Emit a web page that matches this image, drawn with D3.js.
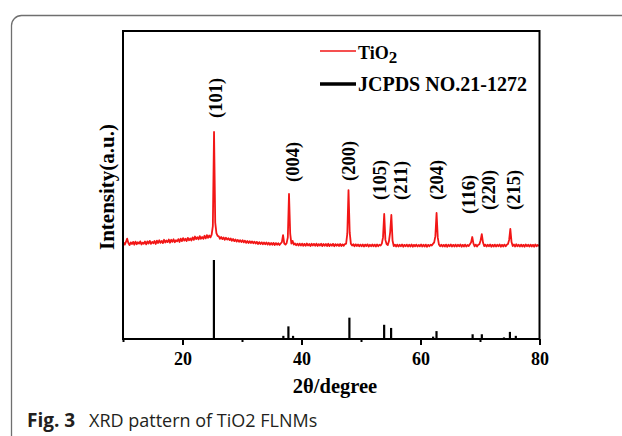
<!DOCTYPE html>
<html>
<head>
<meta charset="utf-8">
<script src="https://cdn.jsdelivr.net/npm/d3@7"></script>
<style>
  html, body { margin: 0; padding: 0; background: #fff; }
  svg { display: block; }
</style>
</head>
<body>
<svg id="chart" width="622" height="436"></svg>
<script>
// Measured scan of the TiO2 sample: 2θ from 10.1° to 79.9° in 0.2° steps (counts, a.u.)
const scanStart = 10.1;
const scanStep = 0.2;
const scanCounts = [
  109, 92, 113, 140, 105, 88, 110, 96, 114, 91,
  116, 95, 111, 100, 118, 93, 108, 99, 117, 94,
  118, 101, 122, 98, 114, 103, 121, 97, 124, 105,
  127, 106, 122, 104, 131, 109, 125, 112, 133, 107,
  131, 114, 135, 111, 127, 118, 136, 113, 140, 120,
  144, 124, 139, 121, 146, 127, 141, 125, 150, 130,
  157, 136, 152, 134, 160, 139, 154, 138, 163, 142,
  168, 147, 165, 150, 172, 240, 1000, 270, 185, 162,
  158, 139, 153, 136, 150, 131, 147, 132, 143, 128,
  141, 123, 137, 120, 133, 116, 130, 114, 128, 112,
  127, 110, 124, 106, 121, 105, 119, 104, 118, 103,
  116, 100, 114, 97, 112, 96, 110, 95, 109, 94,
  109, 92, 107, 90, 105, 91, 106, 89, 104, 90,
  103, 88, 101, 112, 168, 100, 92, 104, 150, 500,
  180, 100, 122, 92, 101, 86, 99, 85, 100, 84,
  100, 83, 98, 82, 101, 85, 97, 81, 99, 84,
  98, 82, 100, 81, 96, 84, 99, 80, 97, 83,
  97, 81, 99, 80, 95, 83, 98, 79, 96, 82,
  95, 80, 97, 81, 94, 82, 96, 100, 180, 532,
  190, 98, 84, 95, 79, 94, 80, 93, 78, 92,
  79, 93, 77, 92, 80, 94, 76, 91, 79, 93,
  78, 92, 77, 93, 79, 91, 84, 100, 150, 339,
  130, 96, 88, 120, 190, 331, 125, 80, 92, 77,
  92, 76, 91, 78, 93, 75, 90, 79, 92, 76,
  91, 77, 93, 75, 90, 78, 92, 76, 89, 78,
  93, 76, 91, 77, 92, 75, 90, 79, 91, 84,
  98, 110, 160, 347, 150, 92, 78, 91, 76, 90,
  77, 92, 75, 91, 78, 93, 76, 90, 77, 92,
  76, 91, 78, 93, 75, 90, 77, 92, 76, 89,
  80, 94, 110, 153, 100, 78, 92, 76, 90, 95,
  125, 177, 110, 80, 92, 76, 91, 78, 93, 75,
  90, 77, 92, 76, 91, 78, 93, 75, 90, 77,
  92, 78, 90, 96, 130, 218, 112, 80, 93, 76,
  95, 78, 91, 76, 92, 77, 90, 75, 93, 78,
  91, 76, 92, 77, 90, 75, 93, 78, 89, 80
];

// Anatase standard card JCPDS 21-1272: line positions (2θ) and relative intensities
const refAngles = [25.28, 36.95, 37.80, 38.58, 48.05, 53.89, 55.06, 62.12, 62.69, 68.76, 70.31, 74.03, 75.03, 76.02];
const refIntensity = [100, 4, 16, 4, 27, 18, 14, 3, 10, 6, 6, 2, 9, 4];

// Miller indices written above the peaks, with the 2θ / count level where each label starts
const peakLabels = ["(101)", "(004)", "(200)", "(105)", "(211)", "(204)", "(116)", "(220)", "(215)"];
const peakLabelAngles = [25.6, 38.6, 48.0, 53.2, 56.8, 62.8, 68.1, 71.5, 75.7];
const peakLabelLevels = [1113, 597, 605, 452, 452, 452, 339, 371, 371];

// Axis ticks
const xDomain = [10, 80];
const xMajorTicks = [20, 40, 60, 80];
const xMinorTicks = [10, 30, 50, 70];

const legendSample = "TiO";
const legendSampleSub = "2";
const legendCard = "JCPDS NO.21-1272";
const xTitle = "2θ/degree";
const yTitle = "Intensity(a.u.)";
const captionLead = "Fig. 3";
const captionText = "XRD pattern of TiO2 FLNMs";

const serif = "'Liberation Serif', 'Times New Roman', serif";
const sans = "'Open Sans', 'Noto Sans', sans-serif";

const svg = d3.select("#chart");
const plot = { left: 123, right: 539.5, top: 31, bottom: 339 };

const x = d3.scaleLinear().domain(xDomain).range([plot.left, plot.right]);
const yScan = d3.scaleLinear().domain([0, 1000]).range([256, 132]);
const yRef = d3.scaleLinear().domain([0, 100]).range([plot.bottom, 260]);

// outer rounded panel border (continues past the right and bottom edges)
svg.append("path")
  .attr("d", "M11.5,440 V25.5 A10,10 0 0 1 21.5,15.5 H640")
  .attr("fill", "none")
  .attr("stroke", "#6f6f6f")
  .attr("stroke-width", 1.3);

// reference sticks
svg.append("g")
  .selectAll("line")
  .data(refAngles.map((a, i) => ({ a, v: refIntensity[i] })))
  .join("line")
  .attr("x1", d => x(d.a)).attr("x2", d => x(d.a))
  .attr("y1", yRef(0)).attr("y2", d => yRef(d.v))
  .attr("stroke", "#000")
  .attr("stroke-width", 2.2);

// measured pattern
const scan = scanCounts.map((c, i) => ({ a: scanStart + i * scanStep, c }));
svg.append("path")
  .datum(scan)
  .attr("fill", "none")
  .attr("stroke", "#f21616")
  .attr("stroke-width", 1.8)
  .attr("stroke-linejoin", "round")
  .attr("d", d3.line().x(d => x(d.a)).y(d => yScan(d.c)));

// x axis: major ticks with labels, minor ticks without
const axisG = svg.append("g").attr("transform", `translate(0,${plot.bottom})`);
axisG.call(d3.axisBottom(x).tickValues(xMajorTicks).tickSize(6).tickSizeOuter(0).tickPadding(7).tickFormat(d3.format("d")));
axisG.append("g").call(d3.axisBottom(x).tickValues(xMinorTicks).tickSize(3).tickSizeOuter(0).tickFormat(""));
axisG.selectAll(".domain").remove();
axisG.selectAll(".tick line").attr("stroke", "#000").attr("stroke-width", 2);
axisG.selectAll(".tick text")
  .attr("fill", "#000")
  .style("font-family", serif)
  .style("font-weight", "bold")
  .style("font-size", "18px");

// plot frame
svg.append("rect")
  .attr("x", plot.left).attr("y", plot.top)
  .attr("width", plot.right - plot.left).attr("height", plot.bottom - plot.top)
  .attr("fill", "none")
  .attr("stroke", "#000")
  .attr("stroke-width", 2);

// peak (hkl) labels
svg.append("g")
  .selectAll("text")
  .data(peakLabels.map((t, i) => ({ t, a: peakLabelAngles[i], l: peakLabelLevels[i] })))
  .join("text")
  .attr("transform", d => `translate(${x(d.a)},${yScan(d.l)}) rotate(-90)`)
  .attr("text-anchor", "start")
  .attr("dominant-baseline", "central")
  .style("font-family", serif)
  .style("font-weight", "bold")
  .style("font-size", "18.5px")
  .text(d => d.t);

// legend
const legend = svg.append("g");
legend.append("line").attr("x1", 320).attr("x2", 356).attr("y1", 51).attr("y2", 51)
  .attr("stroke", "#f21616").attr("stroke-width", 1.7);
legend.append("line").attr("x1", 320).attr("x2", 356).attr("y1", 84).attr("y2", 84)
  .attr("stroke", "#000").attr("stroke-width", 3.4);
const t1 = legend.append("text").attr("x", 358).attr("y", 59)
  .style("font-family", serif).style("font-weight", "bold").style("font-size", "18px");
t1.append("tspan").text(legendSample);
t1.append("tspan").attr("dy", 4).style("font-size", "17px").text(legendSampleSub);
legend.append("text").attr("x", 358).attr("y", 91)
  .style("font-family", serif).style("font-weight", "bold").style("font-size", "20px")
  .text(legendCard);

// axis titles
svg.append("text")
  .attr("x", 335).attr("y", 393)
  .attr("text-anchor", "middle")
  .style("font-family", serif).style("font-weight", "bold").style("font-size", "20.5px")
  .text(xTitle);
svg.append("text")
  .attr("transform", "translate(107,187) rotate(-90)")
  .attr("text-anchor", "middle")
  .attr("dominant-baseline", "central")
  .style("font-family", serif).style("font-weight", "bold").style("font-size", "21px")
  .text(yTitle);

// caption
svg.append("text").attr("x", 27).attr("y", 427)
  .attr("fill", "#231f20")
  .style("font-family", sans).style("font-weight", "bold").style("font-size", "19px")
  .text(captionLead);
svg.append("text").attr("x", 89).attr("y", 427)
  .attr("fill", "#231f20")
  .style("font-family", sans).style("font-size", "18px")
  .text(captionText);
</script>
</body>
</html>
